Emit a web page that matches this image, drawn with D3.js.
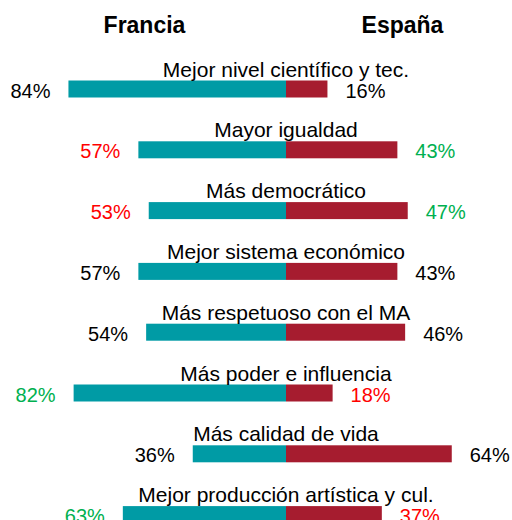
<!DOCTYPE html>
<html><head><meta charset="utf-8">
<script src="https://cdn.jsdelivr.net/npm/d3@7"></script>
<style>html,body{margin:0;padding:0;background:#fff;}svg{display:block;font-family:"Liberation Sans",Arial,sans-serif;}</style>
</head><body>
<svg id="c" width="512" height="520"></svg>
<script>
const categories = ["Mejor nivel científico y tec.","Mayor igualdad","Más democrático","Mejor sistema económico","Más respetuoso con el MA","Más poder e influencia","Más calidad de vida","Mejor producción artística y cul."];
const francia = [84,57,53,57,54,82,36,63];
const espana = [16,43,47,43,46,18,64,37];
const franciaLabelColor = ["#000","#ff0000","#ff0000","#000","#000","#00b050","#000","#00b050"];
const espanaLabelColor = ["#000","#00b050","#00b050","#000","#000","#ff0000","#000","#ff0000"];
const seriesNames = ["Francia","España"];

const svg = d3.select("#c");
const cx = 286;
const x = d3.scaleLinear().domain([0,100]).range([0,259]);
const y = d3.scalePoint().domain(categories).range([80.5, 80.5 + 7*60.8]);
const barH = 17;

svg.append("text").attr("x",144.5).attr("y",33).attr("text-anchor","middle")
  .attr("font-weight","bold").attr("font-size",23).text(seriesNames[0]);
svg.append("text").attr("x",402.5).attr("y",33).attr("text-anchor","middle")
  .attr("font-weight","bold").attr("font-size",23).text(seriesNames[1]);

const rows = categories.map((c,i)=>({c, f:francia[i], e:espana[i], fc:franciaLabelColor[i], ec:espanaLabelColor[i]}));
const g = svg.selectAll("g.row").data(rows).join("g").attr("class","row");

g.append("rect").attr("x",d=>cx - x(d.f)).attr("y",d=>y(d.c)).attr("width",d=>x(d.f)).attr("height",barH).attr("fill","#009ba5");
g.append("rect").attr("x",cx).attr("y",d=>y(d.c)).attr("width",d=>x(d.e)).attr("height",barH).attr("fill","#a61c2f");

g.append("text").attr("x",cx).attr("y",d=>y(d.c)-4).attr("text-anchor","middle").attr("font-size",21).attr("fill","#000").text(d=>d.c);
g.append("text").attr("x",d=>cx - x(d.f) - 18).attr("y",d=>y(d.c)+barH).attr("text-anchor","end").attr("font-size",20).attr("fill",d=>d.fc).text(d=>d.f+"%");
g.append("text").attr("x",d=>cx + x(d.e) + 18).attr("y",d=>y(d.c)+barH).attr("text-anchor","start").attr("font-size",20).attr("fill",d=>d.ec).text(d=>d.e+"%");
</script>
</body></html>
